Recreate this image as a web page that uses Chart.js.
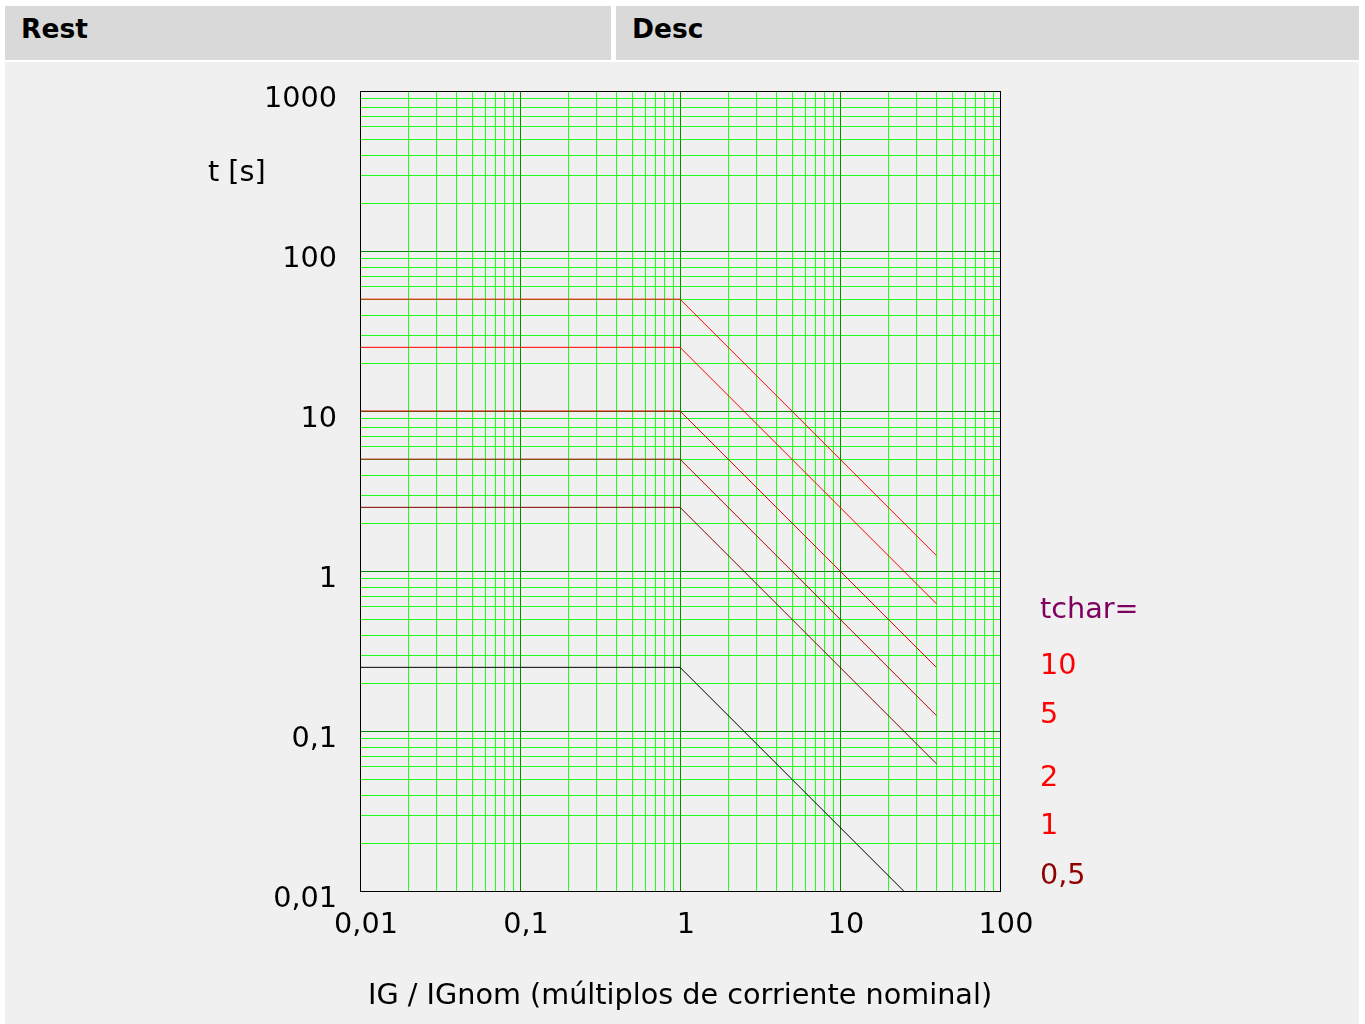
<!DOCTYPE html>
<html>
<head>
<meta charset="utf-8">
<script src="https://cdn.jsdelivr.net/npm/chart.js@4.4.0/dist/chart.umd.min.js"></script>
<style>
  body { margin: 0; background: #ffffff; font-family: "DejaVu Sans", sans-serif; }
  .head { position: absolute; top: 6px; height: 54px; background: #d9d9d9; font-weight: bold; font-size: 26.5px; line-height: 46px; padding-left: 16px; box-sizing: border-box; color: #000; }
  #main { position: absolute; left: 5px; top: 62px; width: 1354px; height: 962px; background: #f0f0f0; }
</style>
</head>
<body>
<div class="head" style="left:5px;width:606px;">Rest</div>
<div class="head" style="left:616px;width:743px;">Desc</div>
<div id="main"><canvas id="curveChart"></canvas></div>
<script>
// curvas tchar (tiempo constante hasta 1 x IGnom, luego inversa)
const startX = 0.01;
const kneeX = 1;
const endX = 40;
const plateauT = [50, 25, 10, 5, 2.5, 0.25];
const endT = [1.25, 0.625, 0.25, 0.125, 0.0625, 0.00625];
const lineColors = ['#ff0000', '#ff0000', '#ee0000', '#b00000', '#800000', '#000000'];

const xDecades = [0.01, 0.1, 1, 10, 100];
const yDecades = [0.01, 0.1, 1, 10, 100, 1000];
const xLabels = ['0,01', '0,1', '1', '10', '100'];
const yLabels = ['0,01', '0,1', '1', '10', '100', '1000'];
const minorSteps = [1, 2, 3, 4, 5, 6, 7, 8, 9];

const tcharLabels = ['10', '5', '2', '1', '0,5'];
const tcharColors = ['#ff0000', '#ff0000', '#ff0000', '#ff0000', '#900000'];
const tcharY = [665, 714, 777, 825, 875];

const FONT = '"DejaVu Sans", sans-serif';
const FS = 28.7;

function buildTicks(decades) {
    const ticks = [];
    decades.forEach((d, i) => {
        if (i === decades.length - 1) {
            ticks.push({ value: d, major: true });
            return;
        }
        minorSteps.forEach(m => ticks.push({ value: +(d * m).toPrecision(6), major: m === 1 }));
    });
    return ticks;
}

function decadeLabel(decades, labels, value) {
    const idx = decades.findIndex(d => Math.abs(d - value) / d < 1e-6);
    return idx >= 0 ? labels[idx] : '';
}

const datasets = plateauT.map((t, i) => ({
    data: [{ x: startX, y: t }, { x: kneeX, y: t }, { x: endX, y: endT[i] }],
    borderColor: lineColors[i],
    borderWidth: 1,
    pointRadius: 0,
    fill: false,
    tension: 0
}));

// rejilla verde: mayores oscuras, menores claras
const gridPlugin = {
    id: 'gridPlugin',
    beforeDatasetsDraw(chart) {
        const ctx = chart.ctx;
        const a = chart.chartArea;
        const xs = chart.scales.x;
        const ys = chart.scales.y;
        ctx.save();
        ctx.lineWidth = 1;
        const drawSet = major => {
            ctx.strokeStyle = major ? '#008c00' : '#1eff1e';
            ctx.beginPath();
            xs.ticks.filter(t => !!t.major === major).forEach(t => {
                const px = Math.round(xs.getPixelForValue(t.value)) + 0.5;
                ctx.moveTo(px, a.top);
                ctx.lineTo(px, a.bottom);
            });
            ys.ticks.filter(t => !!t.major === major).forEach(t => {
                const py = Math.round(ys.getPixelForValue(t.value)) + 0.5;
                ctx.moveTo(a.left, py);
                ctx.lineTo(a.right, py);
            });
            ctx.stroke();
        };
        drawSet(false);
        drawSet(true);
        ctx.restore();
    },
    afterDraw(chart) {
        const ctx = chart.ctx;
        const a = chart.chartArea;
        ctx.save();
        ctx.strokeStyle = '#000000';
        ctx.lineWidth = 1;
        ctx.strokeRect(Math.round(a.left) + 0.5, Math.round(a.top) + 0.5,
            Math.round(a.right - a.left), Math.round(a.bottom - a.top));
        ctx.font = FS + 'px ' + FONT;
        ctx.textBaseline = 'middle';
        ctx.textAlign = 'left';
        ctx.fillStyle = '#000000';
        ctx.fillText('t [s]', 203, 112);
        ctx.fillStyle = '#800060';
        ctx.fillText('tchar=', 1035, 549);
        tcharLabels.forEach((lbl, i) => {
            ctx.fillStyle = tcharColors[i];
            ctx.fillText(lbl, 1035, tcharY[i] - 60);
        });
        ctx.restore();
    }
};

const ctx = document.getElementById('curveChart').getContext('2d');
new Chart(ctx, {
    type: 'line',
    data: { datasets },
    options: {
        responsive: true,
        maintainAspectRatio: false,
        animation: false,
        layout: { padding: { left: 0, right: 359, top: 29, bottom: 0 } },
        plugins: { legend: { display: false }, tooltip: { enabled: false } },
        scales: {
            x: {
                type: 'logarithmic',
                min: 0.01,
                max: 100,
                afterBuildTicks: scale => { scale.ticks = buildTicks(xDecades); },
                afterFit: scale => {
                    scale.height = 133;
                    scale.paddingLeft = 0;
                    scale.paddingRight = 0;
                },
                grid: { display: false, drawTicks: false },
                border: { display: false },
                ticks: {
                    autoSkip: false,
                    maxRotation: 0,
                    padding: 17,
                    labelOffset: 6,
                    color: '#000000',
                    font: { family: FONT, size: FS },
                    callback: value => decadeLabel(xDecades, xLabels, value)
                },
                title: {
                    display: true,
                    text: 'IG / IGnom (múltiplos de corriente nominal)',
                    color: '#000000',
                    font: { family: FONT, size: FS },
                    padding: { top: 0, bottom: 10 }
                }
            },
            y: {
                type: 'logarithmic',
                min: 0.01,
                max: 1000,
                afterBuildTicks: scale => { scale.ticks = buildTicks(yDecades); },
                afterFit: scale => {
                    scale.width = 355;
                    scale.paddingTop = 0;
                    scale.paddingBottom = 0;
                },
                grid: { display: false, drawTicks: false },
                border: { display: false },
                ticks: {
                    autoSkip: false,
                    padding: 23,
                    labelOffset: 9,
                    color: '#000000',
                    font: { family: FONT, size: FS },
                    callback: value => decadeLabel(yDecades, yLabels, value)
                }
            }
        }
    },
    plugins: [gridPlugin]
});
</script>
</body>
</html>
